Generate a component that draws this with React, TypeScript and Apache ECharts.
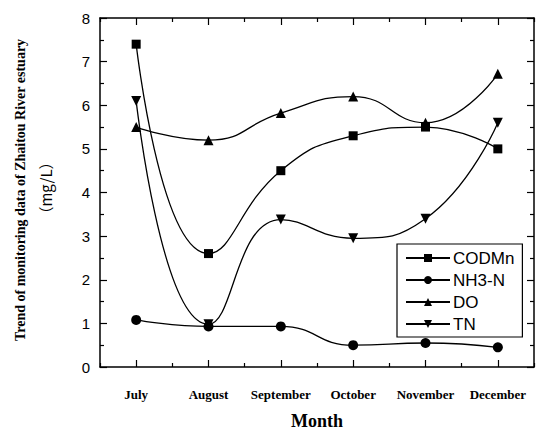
import React, { useEffect, useRef } from "react";
import * as echarts from "echarts";

const months = ["July", "August", "September", "October", "November", "December"];
const codmn = [7.4, 2.6, 4.5, 5.3, 5.5, 5.0];
const nh3n = [1.08, 0.93, 0.93, 0.5, 0.55, 0.45];
const doVals = [5.5, 5.2, 5.82, 6.2, 5.6, 6.72];
const tn = [6.1, 0.98, 3.38, 2.95, 3.4, 5.6];
const yTicks = [0, 1, 2, 3, 4, 5, 6, 7, 8];

export default function App() {
  const ref = useRef<HTMLDivElement>(null);
  useEffect(() => {
    if (!ref.current) return;
    const chart = echarts.init(ref.current, null, { renderer: "svg" });
    const black = "#000";
    const mkSeries = (name: string, data: number[], symbol: string, size: number, rot = 0) => ({
      name,
      type: "line",
      data,
      smooth: 0.5,
      symbol,
      symbolSize: size,
      symbolRotate: rot,
      itemStyle: { color: black },
      lineStyle: { color: black, width: 1.3 },
      xAxisIndex: 0,
      yAxisIndex: 0,
    });
    const tickStyle = { color: black, width: 1.2 };
    const catAxis = (extra: any) => ({
      type: "category",
      data: months,
      boundaryGap: true,
      axisLine: { show: false, onZero: false },
      axisLabel: { show: false },
      splitLine: { show: false },
      ...extra,
    });
    const gridBox = () => ({ left: 100, right: 14, top: 18, bottom: 65, containLabel: false, outerBoundsMode: "none" });
    chart.setOption({
      animation: false,
      backgroundColor: "#fff",
      grid: [gridBox(), gridBox()],
      legend: {
        orient: "vertical",
        left: 397,
        top: 244,
        itemWidth: 44,
        itemHeight: 10,
        itemGap: 2,
        padding: [4, 8, 3, 8],
        borderColor: black,
        borderWidth: 1.2,
        backgroundColor: "#fff",
        textStyle: { fontFamily: "Liberation Sans, Arial", fontSize: 17, lineHeight: 20, color: black, padding: [0, 0, 0, -2] },
        data: ["CODMn", "NH3-N", "DO", "TN"],
      },
      xAxis: [
        catAxis({
          gridIndex: 0,
          position: "bottom",
          axisLine: { show: true, onZero: false, lineStyle: { color: black, width: 1.5 } },
          axisTick: { show: true, inside: true, alignWithLabel: true, interval: 0, length: 7, lineStyle: tickStyle },
          axisLabel: {
            show: true,
            interval: 0,
            color: black,
            fontFamily: "Liberation Serif, Times New Roman",
            fontWeight: "bold",
            fontSize: 13,
            margin: 21,
          },
          name: "Month",
          nameLocation: "middle",
          nameGap: 45,
          nameTextStyle: { color: black, fontFamily: "Liberation Serif, Times New Roman", fontWeight: "bold", fontSize: 18, lineHeight: 18 },
        }),
        catAxis({
          gridIndex: 0,
          position: "top",
          axisLine: { show: true, onZero: false, lineStyle: { color: black, width: 1.5 } },
          axisTick: { show: true, inside: true, alignWithLabel: true, interval: 0, length: 7, lineStyle: tickStyle },
        }),
        catAxis({
          gridIndex: 1,
          position: "bottom",
          axisTick: { show: true, inside: true, interval: 0, length: 4, lineStyle: tickStyle },
        }),
        catAxis({
          gridIndex: 1,
          position: "top",
          axisTick: { show: true, inside: true, interval: 0, length: 4, lineStyle: tickStyle },
        }),
      ],
      yAxis: [
        {
          gridIndex: 0,
          type: "value",
          position: "left",
          min: 0,
          max: 8,
          interval: 1,
          axisLine: { show: true, lineStyle: { color: black, width: 1.5 } },
          axisTick: { show: true, inside: true, length: 7, lineStyle: tickStyle },
          minorTick: { show: true, splitNumber: 2, length: 4, lineStyle: tickStyle },
          splitLine: { show: false },
          axisLabel: {
            color: black,
            fontFamily: "Liberation Sans, Arial",
            fontSize: 15,
            margin: 10,
            formatter: (v: number) => (yTicks.includes(v) ? String(v) : ""),
          },
        },
        {
          gridIndex: 0,
          type: "value",
          position: "right",
          min: 0,
          max: 8,
          interval: 1,
          axisLine: { show: true, lineStyle: { color: black, width: 1.5 } },
          axisTick: { show: true, inside: true, length: 7, lineStyle: tickStyle },
          minorTick: { show: true, splitNumber: 2, length: 4, lineStyle: tickStyle },
          splitLine: { show: false },
          axisLabel: { show: false },
        },
        {
          gridIndex: 1,
          type: "value",
          min: 0,
          max: 8,
          interval: 1,
          show: false,
        },
      ],
      graphic: [
        {
          type: "text",
          x: 20,
          y: 190,
          rotation: Math.PI / 2,
          style: {
            text: "Trend of monitoring data of Zhaitou River estuary",
            fontFamily: "Liberation Serif, Times New Roman",
            fontWeight: "bold",
            fontSize: 14,
            fill: black,
            textAlign: "center",
            textVerticalAlign: "middle",
          },
        },
        {
          type: "text",
          x: 45,
          y: 188,
          rotation: Math.PI / 2,
          style: {
            text: "（mg/L）",
            fontFamily: "Noto Sans CJK SC",
            fontSize: 15,
            fill: black,
            textAlign: "center",
            textVerticalAlign: "middle",
          },
        },
      ],
      series: [
        mkSeries("CODMn", codmn, "rect", 9),
        mkSeries("NH3-N", nh3n, "circle", 10),
        mkSeries("DO", doVals, "triangle", 10),
        mkSeries("TN", tn, "triangle", 10, 180),
      ],
    });
    return () => chart.dispose();
  }, []);
  return (
    <div
      ref={ref}
      style={{ position: "fixed", left: 0, top: 0, width: 548, height: 432 }}
    />
  );
}
